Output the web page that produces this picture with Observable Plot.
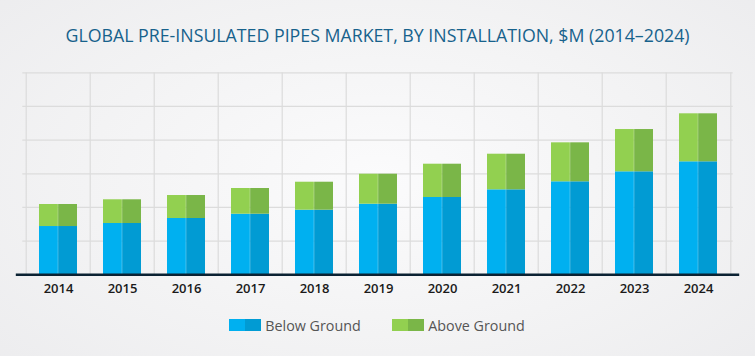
<!DOCTYPE html>
<html>
<head>
<meta charset="utf-8">
<script src="https://cdn.jsdelivr.net/npm/d3@7"></script>
<script src="https://cdn.jsdelivr.net/npm/@observablehq/plot@0.6"></script>
<style>
  html, body { margin: 0; padding: 0; }
  body {
    width: 755px; height: 356px; overflow: hidden; position: relative;
    background: radial-gradient(ellipse 70% 80% at 50% 50%, #fbfbfc 0%, #f3f3f4 55%, #ececee 100%);
    font-family: "Open Sans", "Noto Sans", sans-serif;
  }
  #title {
    position: absolute; left: 0; top: 24px; width: 755px; text-align: center;
    font-family: "Open Sans", "Noto Sans", sans-serif; font-size: 17.5px; line-height: 22px;
    color: #17628c; white-space: nowrap; font-weight: 500;
  }
  #title span { display: inline-block; transform-origin: 50% 50%; }
  #chart { position: absolute; left: 0; top: 0; }
  #legend { position: absolute; left: 0; top: 317px; width: 755px; height: 18px; }
  .item { position: absolute; top: 0; display: flex; align-items: center; height: 16px; }
  .sw { width: 32px; height: 12px; display: flex; margin-right: 4px; }
  .sw i { flex: 1; display: block; }
  .lbl { font-size: 14.3px; color: #555; white-space: nowrap; }
</style>
</head>
<body>
<div id="title"><span id="titleText">GLOBAL PRE-INSULATED PIPES MARKET, BY INSTALLATION, $M (2014–2024)</span></div>
<div id="chart"></div>
<div id="legend"></div>
<script>
// ---- data ----
const years = ["2014","2015","2016","2017","2018","2019","2020","2021","2022","2023","2024"];
const belowGround = [1434, 1524, 1672, 1800, 1919, 2097, 2296, 2524, 2762, 3059, 3356];
const aboveGround = [654, 704, 683, 763, 831, 891, 989, 1058, 1158, 1256, 1426];
const gridTicks = [1000, 2000, 3000, 4000, 5000, 6000];
const seriesNames = ["Below Ground", "Above Ground"];

// ---- style ----
const colors = {
  "Below Ground": ["#00b0f0", "#019bd3"],
  "Above Ground": ["#92d050", "#7ab648"]
};
const W = 755, H = 300;
const mL = 22.3, mR = 22.3, mT = 72.3, mB = 25.7;
const padIn = 0.407, padOut = padIn / 2;
const step = (W - mL - mR) / years.length;
const bw = step * (1 - padIn);
const half = bw / 2;

const rows = [];
years.forEach((y, i) => {
  const b = belowGround[i], a = aboveGround[i];
  rows.push({year: y, series: seriesNames[0], y1: 0, y2: b});
  rows.push({year: y, series: seriesNames[1], y1: b, y2: b + a});
});

const marks = [
  Plot.ruleY(gridTicks, {stroke: "#dcdcdc", strokeWidth: 1.2}),
  Plot.ruleX(years, {x: d => d, dx: -step / 2, stroke: "#dcdcdc", strokeWidth: 1.2}),
  Plot.ruleX([years[years.length - 1]], {x: d => d, dx: step / 2, stroke: "#dcdcdc", strokeWidth: 1.2})
];
for (const s of seriesNames) {
  const data = rows.filter(r => r.series === s);
  marks.push(Plot.rectY(data, {x: "year", y1: "y1", y2: "y2", fill: colors[s][0], insetRight: half}));
  marks.push(Plot.rectY(data, {x: "year", y1: "y1", y2: "y2", fill: colors[s][1], insetLeft: half}));
}
marks.push(Plot.ruleY([0], {stroke: "#0b2233", strokeWidth: 2.4, insetLeft: -6.5, insetRight: -6.5}));
marks.push(Plot.axisX({tickSize: 0, tickPadding: 8.5, fontSize: 13, label: null, fontWeight: 600}));

const chart = Plot.plot({
  width: W, height: H,
  marginLeft: mL, marginRight: mR, marginTop: mT, marginBottom: mB,
  style: {background: "transparent", color: "#1a1a1a", fontFamily: "'Open Sans', 'Noto Sans', sans-serif"},
  x: {type: "band", domain: years, paddingInner: padIn, paddingOuter: padOut, align: 0.5},
  y: {domain: [0, 6000], axis: null},
  marks
});
document.getElementById("chart").appendChild(chart);

// legend
const legend = document.getElementById("legend");
const legendX = [229.3, 392.3];
seriesNames.forEach((s, i) => {
  const item = document.createElement("div");
  item.className = "item";
  item.style.left = legendX[i] + "px";
  item.innerHTML = `<div class="sw"><i style="background:${colors[s][0]}"></i><i style="background:${colors[s][1]}"></i></div><span class="lbl">${s}</span>`;
  legend.appendChild(item);
});

// fit title width
const t = document.getElementById("titleText");
const wNow = t.getBoundingClientRect().width;
t.style.transform = `scaleX(${624 / wNow})`;
</script>
</body>
</html>
